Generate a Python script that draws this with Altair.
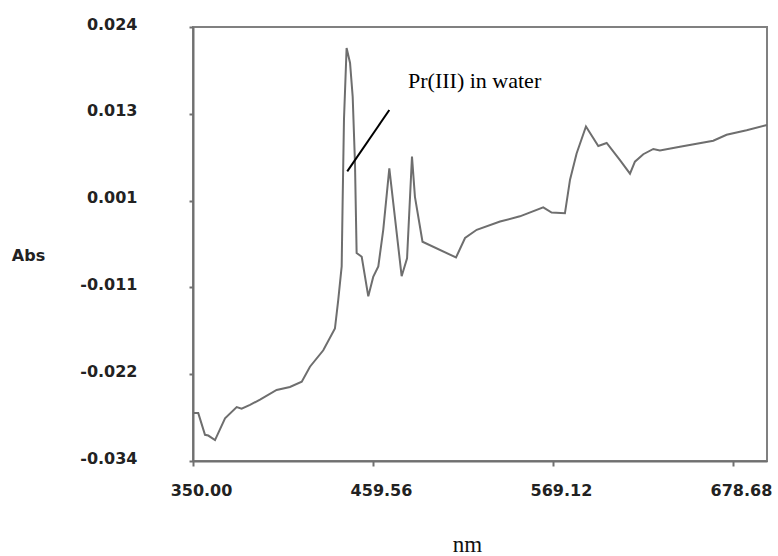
import altair as alt
import pandas as pd

wavelength = [350.2, 353.2, 357.3, 359.3, 363.4, 369.5, 376.6, 379.6, 384.7, 390.8,
              400.9, 409.0, 416.2, 421.2, 429.3, 436.4, 438.4, 440.5, 441.1, 441.9,
              443.5, 445.6, 447.2, 448.6, 449.6, 452.7, 456.7, 459.7, 462.8, 465.8,
              469.5, 471.9, 477.0, 480.3, 483.3, 485.1, 489.7, 510.1, 515.6, 522.7,
              536.9, 549.0, 563.2, 568.3, 576.4, 579.5, 583.5, 589.2, 596.7, 601.8,
              609.9, 616.0, 619.0, 624.1, 630.2, 634.2, 646.4, 666.7, 674.8, 687.0, 699.4]
absorbance = [-0.0274, -0.0274, -0.0303, -0.0304, -0.0310, -0.0281, -0.0266, -0.0268, -0.0263, -0.0256,
              -0.0243, -0.0239, -0.0232, -0.0212, -0.0190, -0.0161, -0.0123, -0.0078, 0.0011, 0.0118,
              0.0214, 0.0194, 0.0149, 0.0060, -0.0060, -0.0065, -0.0118, -0.0092, -0.0078, -0.0029,
              0.0053, 0.0007, -0.0091, -0.0067, 0.0069, 0.0015, -0.0045, -0.0066, -0.0040, -0.0029,
              -0.0018, -0.0011, 0.0001, -0.0006, -0.0007, 0.0038, 0.0073, 0.0109, 0.0083, 0.0087,
              0.0064, 0.0046, 0.0062, 0.0072, 0.0079, 0.0077, 0.0082, 0.0090, 0.0098, 0.0104, 0.0111]

x_ticks = [350.00, 459.56, 569.12, 678.68]
y_ticks = [-0.0338, -0.0222, -0.0106, 0.0010, 0.0126, 0.0242]

label_text = ["Pr(III) in water"]
label_x = [480.9]
label_y = [0.0160]

pointer_x = [443.9]
pointer_y = [0.0049]
pointer_x2 = [469.5]
pointer_y2 = [0.0131]

spectrum = pd.DataFrame({"nm": wavelength, "Abs": absorbance})
pointer = pd.DataFrame({"x": pointer_x, "y": pointer_y, "x2": pointer_x2, "y2": pointer_y2})
label = pd.DataFrame({"x": label_x, "y": label_y, "t": label_text})

xscale = alt.Scale(domain=[350, 699.4], nice=False, zero=False)
yscale = alt.Scale(domain=[-0.0338, 0.0242], nice=False, zero=False)

xaxis = alt.Axis(values=x_ticks, format=".2f", grid=False, tickSize=5, tickColor="#707070",
                 domainColor="#707070", domainWidth=2, tickWidth=2, labelFlush=False,
                 labelFont="DejaVu Sans", labelFontWeight="bold", labelFontSize=16,
                 labelColor="#222222", labelPadding=16, labelOffset=8,
                 title="nm", titleFont="Liberation Serif", titleFontSize=23,
                 titleFontWeight="normal", titleColor="#111111",
                 titleX=274, titleY=90, titleAlign="center", titleBaseline="alphabetic")
yaxis = alt.Axis(values=y_ticks, format=".3f", grid=False, tickSize=4, tickColor="#707070",
                 domainColor="#707070", domainWidth=2, tickWidth=2, labelFlush=False,
                 labelExpr="replace(datum.label, '\u2212', '-')",
                 labelFont="DejaVu Sans", labelFontWeight="bold", labelFontSize=16,
                 labelColor="#222222", labelPadding=52, labelOffset=-3,
                 title="Abs", titleFont="DejaVu Sans", titleFontWeight="bold", titleFontSize=16,
                 titleColor="#222222", titleAngle=0, titleX=-165, titleY=228,
                 titleAlign="center", titleBaseline="middle")

line = alt.Chart(spectrum).mark_line(color="#6e6e6e", strokeWidth=2).encode(
    x=alt.X("nm:Q", scale=xscale, axis=xaxis),
    y=alt.Y("Abs:Q", scale=yscale, axis=yaxis),
)

rule = alt.Chart(pointer).mark_rule(color="black", strokeWidth=2).encode(
    x=alt.X("x:Q", scale=xscale), y=alt.Y("y:Q", scale=yscale),
    x2="x2:Q", y2="y2:Q",
)

text = alt.Chart(label).mark_text(font="Liberation Serif", fontSize=22, align="left",
                                  baseline="alphabetic", color="black").encode(
    x=alt.X("x:Q", scale=xscale), y=alt.Y("y:Q", scale=yscale), text="t:N",
)

chart = alt.layer(line, rule, text).properties(
    width=574, height=434,
    autosize=alt.AutoSizeParams(type="none"),
    padding={"left": 193, "top": 27, "right": 11, "bottom": 95},
    background="white",
).configure_view(stroke="#808080", strokeWidth=2)

chart.save("out.html", embed_options={"renderer": "svg", "actions": False})
